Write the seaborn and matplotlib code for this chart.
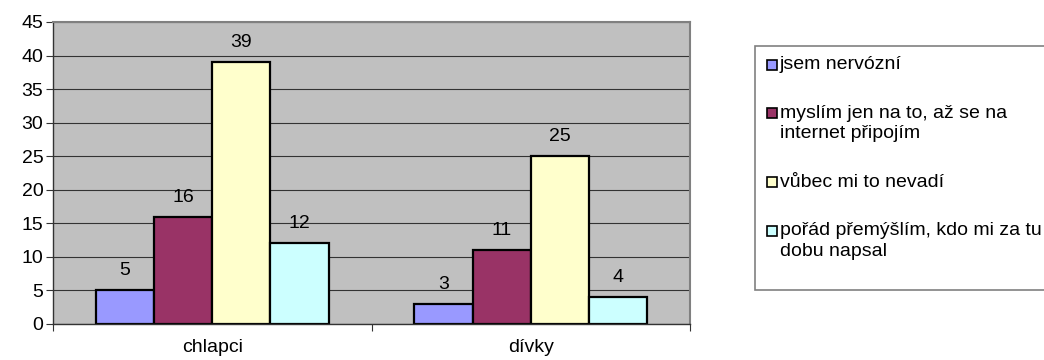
"""
Reakce na nemožnost připojení k internetu - chlapci vs. dívky (Excel-style bar chart).
"""
import pandas as pd
import matplotlib
matplotlib.use('Agg')
import matplotlib.pyplot as plt
from matplotlib.patches import Patch, Rectangle
from matplotlib.legend_handler import HandlerPatch
import seaborn as sns

# Data
groups = ['chlapci', 'dívky']
answers = ['jsem nervózní',
           'myslím jen na to, až se na\ninternet připojím',
           'vůbec mi to nevadí',
           'pořád přemýšlím, kdo mi za tu\ndobu napsal']
chlapci = [5, 16, 39, 12]
divky = [3, 11, 25, 4]
colors = ['#9999FF', '#993366', '#FFFFCC', '#CCFFFF']

df = pd.DataFrame({
    'skupina': groups[0:1] * 4 + groups[1:2] * 4,
    'odpoved': answers * 2,
    'pocet': chlapci + divky,
})

sns.set_style('white')
plt.rcParams['font.family'] = ['Liberation Sans', 'DejaVu Sans']
plt.rcParams['text.color'] = 'black'
plt.rcParams['xtick.color'] = 'black'
plt.rcParams['ytick.color'] = 'black'

fig = plt.figure(figsize=(10.44, 3.6), dpi=100)
ax = fig.add_axes([53 / 1044, 36 / 360, (690 - 53) / 1044, (324 - 22) / 360])
ax.set_facecolor('#C0C0C0')

sns.barplot(data=df, x='skupina', y='pocet', hue='odpoved', order=groups,
            hue_order=answers, palette=colors, width=0.73, gap=0,
            edgecolor='black', linewidth=1.6, saturation=1, ax=ax, legend=False)

for cont in ax.containers:
    ax.bar_label(cont, padding=8, fontsize=14)

ax.set_ylim(0, 45)
ax.set_yticks(range(0, 46, 5))
ax.set_xlim(-0.5, 1.5)
ax.grid(True, axis='y', color='#333333', linewidth=0.8)
ax.set_axisbelow(True)
ax.set_xlabel('')
ax.set_ylabel('')
ax.tick_params(axis='both', labelsize=14)
ax.tick_params(axis='y', left=True, length=5, width=0.8, color='#333333', pad=2)
ax.tick_params(axis='x', bottom=False, pad=7)
ax.set_xticks([-0.5, 0.5, 1.5], minor=True)
ax.tick_params(axis='x', which='minor', bottom=True, length=5, width=0.8, color='#333333')

for side in ['left', 'bottom']:
    ax.spines[side].set_color('#333333')
    ax.spines[side].set_linewidth(1)
for side in ['top', 'right']:
    ax.spines[side].set_color('#808080')
    ax.spines[side].set_linewidth(1.5)


# small square marker sitting in the first text line
def small_square(legend, orig_handle, xdescent, ydescent, width, height, fontsize):
    s = 0.52 * fontsize
    return Rectangle((-xdescent, -ydescent + (height - s) / 2), s, s)


# Legend box (extends past the right edge like the original)
fig.patches.append(Rectangle((755 / 1044, 1 - 290 / 360), 0.5, (290 - 46) / 360,
                             transform=fig.transFigure, facecolor='white',
                             edgecolor='#808080', linewidth=1.2, zorder=0))
handles = [Patch(facecolor=c, edgecolor='black', linewidth=1.2) for c in colors]
leg = fig.legend(handles, answers, loc='upper left', bbox_to_anchor=(767 / 1044, 1 - 56 / 360),
                 frameon=False, fontsize=14, handlelength=0.52, handleheight=1.0,
                 handletextpad=0.15, labelspacing=1.6, borderaxespad=0, borderpad=0,
                 handler_map={Patch: HandlerPatch(patch_func=small_square)})
for t in leg.get_texts():
    t.set_linespacing(1.3)
for col in leg._legend_handle_box.get_children():
    for item in col.get_children():
        item.align = 'top'

fig.savefig('out.png', dpi=100)
